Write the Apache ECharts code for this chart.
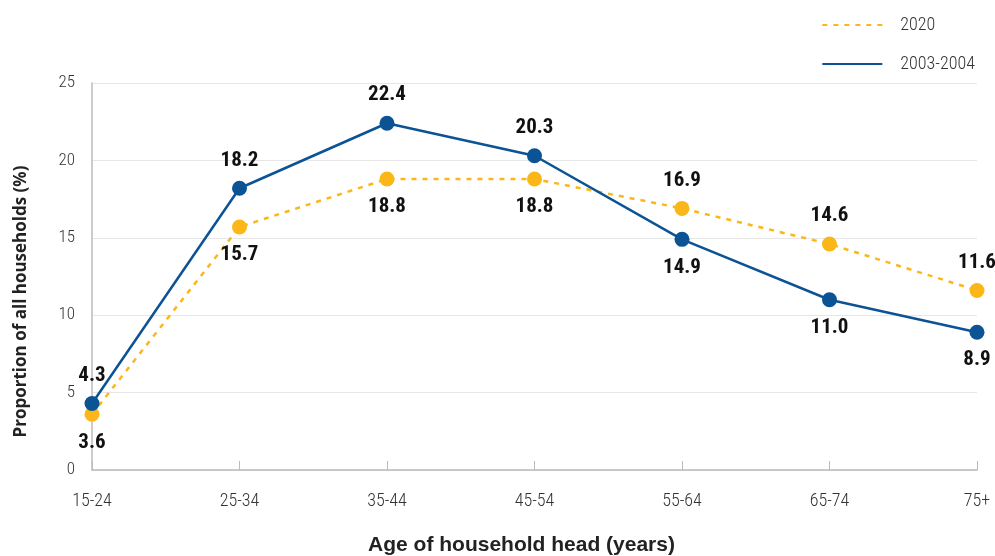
<!DOCTYPE html>
<html>
<head>
<meta charset="utf-8">
<script src="https://cdn.jsdelivr.net/npm/echarts@6/dist/echarts.min.js"></script>
<style>
  html, body { margin: 0; padding: 0; background: #fff; }
  #chart { width: 995px; height: 556px; }
</style>
</head>
<body>
<div id="chart"></div>
<script>
// categories and values
var ageGroups = ["15-24", "25-34", "35-44", "45-54", "55-64", "65-74", "75+"];
var values2020 = [3.6, 15.7, 18.8, 18.8, 16.9, 14.6, 11.6];
var values2003 = [4.3, 18.2, 22.4, 20.3, 14.9, 11.0, 8.9];
// where each value label sits
var labelPos2020 = ["bottom", "bottom", "bottom", "bottom", "top", "top", "top"];
var labelPos2003 = ["top", "top", "top", "top", "bottom", "bottom", "bottom"];

var narrow = "'Roboto Condensed', 'Liberation Sans Narrow', 'DejaVu Sans', sans-serif";

function withLabels(vals, pos) {
  return vals.map(function (v, i) {
    return { value: v, label: { position: pos[i] } };
  });
}

var labelStyle = {
  show: true,
  distance: 10,
  fontFamily: narrow,
  fontWeight: "bold",
  fontSize: 21,
  color: "#111",
  formatter: function (p) { return p.value.toFixed(1); }
};

var chart = echarts.init(document.getElementById("chart"));
chart.setOption({
  animation: false,
  grid: { left: 92, right: 18, top: 83, bottom: 86, outerBoundsMode: "none" },
  legend: {
    orient: "vertical",
    right: 15,
    top: 11,
    itemWidth: 60,
    itemHeight: 14,
    itemGap: 21,
    itemStyle: { opacity: 0 },
    textStyle: { fontFamily: narrow, fontWeight: 300, fontSize: 18, color: "#333", padding: [0, 0, 0, 13] },
    data: ["2020", "2003-2004"]
  },
  xAxis: {
    type: "category",
    data: ageGroups,
    boundaryGap: false,
    name: "Age of household head (years)",
    nameLocation: "middle",
    nameGap: 65,
    nameTextStyle: { fontFamily: "'Liberation Sans', Arial, sans-serif", fontWeight: "bold", fontSize: 21, color: "#222", padding: [0, 26, 0, 0] },
    axisLine: { lineStyle: { color: "#bbb", width: 1.5 } },
    axisTick: { show: true, inside: true, length: 9, lineStyle: { color: "#bbb" } },
    axisLabel: { fontFamily: narrow, fontWeight: 300, fontSize: 18, color: "#333", margin: 22 },
    splitLine: { show: false }
  },
  yAxis: {
    type: "value",
    min: 0,
    max: 25,
    interval: 5,
    name: "Proportion of all households (%)",
    nameLocation: "middle",
    nameGap: 62,
    nameTextStyle: { fontFamily: "'Open Sans', sans-serif", fontWeight: "bold", fontSize: 17, color: "#222", padding: [0, 50, 0, 0] },
    axisLine: { show: true, lineStyle: { color: "#bbb", width: 1.5 } },
    axisTick: { show: false },
    axisLabel: { fontFamily: narrow, fontWeight: 300, fontSize: 17, color: "#333", margin: 17 },
    splitLine: { lineStyle: { color: "#e6e6e6" } }
  },
  series: [
    {
      name: "2020",
      type: "line",
      data: withLabels(values2020, labelPos2020),
      symbol: "circle",
      symbolSize: 15,
      itemStyle: { color: "#fbb718" },
      lineStyle: { color: "#fbb718", width: 2.5, type: [5, 6] },
      label: labelStyle,
      z: 2
    },
    {
      name: "2003-2004",
      type: "line",
      data: withLabels(values2003, labelPos2003),
      symbol: "circle",
      symbolSize: 15,
      itemStyle: { color: "#0b5394" },
      lineStyle: { color: "#0b5394", width: 2.5 },
      label: labelStyle,
      z: 3
    }
  ]
});
</script>
</body>
</html>
